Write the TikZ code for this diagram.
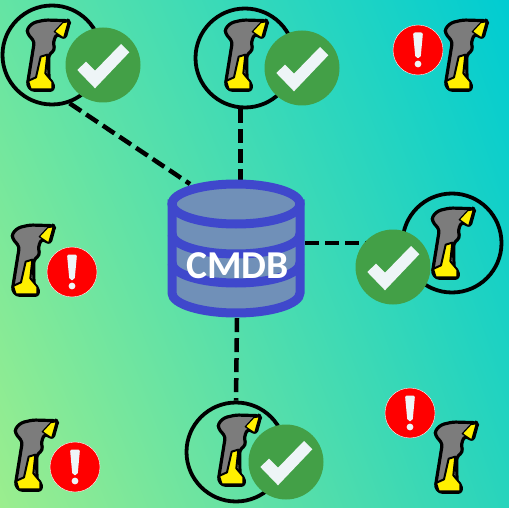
\documentclass[tikz,border=0pt]{standalone}
\usepackage{fontspec}
\usetikzlibrary{shadings}
\setmainfont{Carlito}
\definecolor{dbblue}{HTML}{3F48CC}
\definecolor{dbfill}{HTML}{7090B8}
\definecolor{okgreen}{HTML}{43A047}
\definecolor{tick}{HTML}{EEF5F7}
\definecolor{scgrey}{HTML}{7C7C7C}
\definecolor{scyellow}{HTML}{FFF000}
\definecolor{bgul}{RGB}{100,228,164}
\definecolor{bgur}{RGB}{0,204,210}
\definecolor{bgll}{RGB}{155,238,142}
\definecolor{bglr}{RGB}{40,212,188}
\tikzset{
  ring/.style={circle,draw=black,line width=3.8pt,minimum size=99pt,inner sep=0pt},
  okdisc/.style={circle,fill=okgreen,minimum size=75pt,inner sep=0pt},
  alertdisc/.style={circle,fill=red,draw=white,line width=.4pt,minimum size=50pt,inner sep=0pt},
  link/.style={line width=4.5pt,draw=black,dash pattern=on 14pt off 6pt},
  dbline/.style={draw=dbblue,line width=9pt},
  scanner/.pic={
    \begin{scope}[x=.3333pt,y=-.3333pt]
      \draw[black,line width=3.2pt,line join=round,fill=scgrey,rounded corners=3pt]
        (82,85)--(100,68)--(135,60)--(205,62)--(208,68)--(195,115)--(170,102)--(160,125)--(164,150)--(146,165)--(147,245)--(160,248)--(160,271)--(95,271)--(82,255)--(103,125)--(82,100)--cycle;
      \draw[black,line width=1.2pt,fill=scyellow,line join=round]
        (163,95)--(188,68)--(205,65)--(191,114)--cycle;
      \draw[black,line width=2pt,fill=scyellow,line join=round]
        (122,170)--(142,164)--(136,220)--(157,245)--(157,268)--(92,268)--(84,243)--(108,232)--cycle;
    \end{scope}
  },
  tickmark/.pic={
    \fill[tick] (-25.7,5)--(-17,-3.3)--(-8,5.7)--(18,-21)--(26.3,-12.7)--(-8,23.3)--cycle;
  },
  bang/.pic={
    \fill[tick,rounded corners=2pt] (-5,-17.5)--(5,-17.5)--(2.6,8)--(-2.6,8)--cycle;
    \fill[tick] (0,14) circle (3.4);
  }
}
\begin{document}
\begin{tikzpicture}[x=1pt,y=-1pt]
\useasboundingbox (0,0) rectangle (509,508);
\shade[upper left=bgul,upper right=bgur,lower left=bgll,lower right=bglr]
  (0,0) rectangle (509,508);
% anchors
\node[minimum width=138pt,minimum height=138pt,inner sep=0pt] (db) at (236,249) {};
\node[ring] (c1) at (52,55) {};
\node[ring] (c2) at (245,58) {};
\node[ring] (c3) at (452,243) {};
\node[ring] (c4) at (236,452) {};
\coordinate (dbnw) at (190,184);
% connectors
\draw[link] (c1.-70) -- (dbnw);
\draw[link] (c2.-95) -- (c2.-95 |- db.north);
\draw[link] (db.east |- c3.west) -- (c3.west);
\draw[link] (db.south) ++(1,0) -- (c4.north);
% database
\path[dbline,fill=dbfill] (172,204) -- (172,293) arc[start angle=180,end angle=0,x radius=64,y radius=20] -- (300,204) -- cycle;
\path[dbline,fill=dbfill] (236,204) ellipse[x radius=64,y radius=20];
\draw[dbline] (172,234) arc[start angle=180,end angle=0,x radius=64,y radius=20];
\draw[dbline] (172,263) arc[start angle=180,end angle=0,x radius=64,y radius=20];
\node[text=white,font=\fontsize{39.5}{39.5}\selectfont\bfseries,inner sep=0pt] (dbl) at (237.5,266) {CMDB};
% scanners
\pic at (0,0) {scanner};
\pic at (198,0) {scanner};
\pic at (418,0) {scanner};
\pic at (405,188) {scanner};
\pic at (-15,205) {scanner};
\pic at (-12,400) {scanner};
\pic at (191,395) {scanner};
\pic at (408,402) {scanner};
% status
\node[okdisc] (g1) at (103,65) {}; \pic at (g1) {tickmark};
\node[okdisc] (g2) at (302,68) {}; \pic at (g2) {tickmark};
\node[okdisc] (g3) at (393,267) {}; \pic at (g3) {tickmark};
\node[okdisc] (g4) at (286,462) {}; \pic at (g4) {tickmark};
\node[alertdisc] (r1) at (418,50) {}; \pic at (r1) {bang};
\node[alertdisc] (r2) at (72,272) {}; \pic at (r2) {bang};
\node[alertdisc] (r3) at (75,467) {}; \pic at (r3) {bang};
\node[alertdisc] (r4) at (410,413) {}; \pic at (r4) {bang};
\end{tikzpicture}
\end{document}
